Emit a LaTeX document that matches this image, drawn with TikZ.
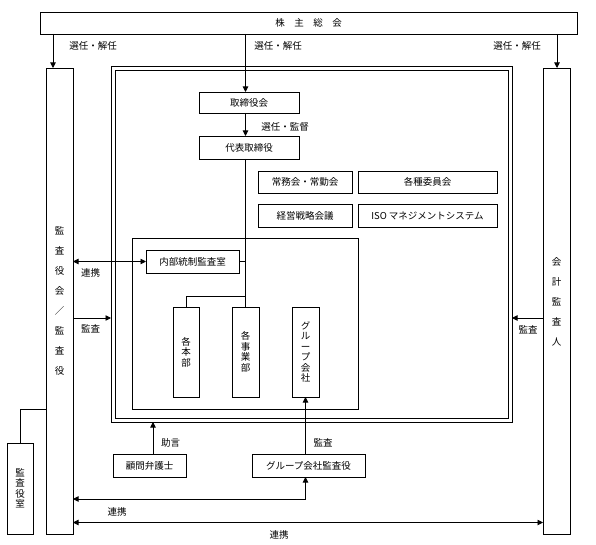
\documentclass[tikz,border=0pt]{standalone}
\usepackage{fontspec}
\setmainfont{Noto Sans CJK JP}
\newfontfamily\vjp[RawFeature=+vert]{Noto Sans CJK JP}
\usetikzlibrary{arrows.meta}
\begin{document}
\begin{tikzpicture}[x=1pt,y=-1pt,
  every node/.style={font=\fontsize{9.5}{11}\selectfont, inner sep=0pt, outer sep=0pt},
  box/.style={draw, line width=0.8pt, fill=white},
  vtext/.style={align=center, font=\fontsize{9.5}{10.5}\selectfont},
  ctext/.style={align=center, font=\fontsize{9.5}{20}\selectfont},
  conn/.style={line width=0.9pt},
  arr/.style={line width=0.9pt, -{Triangle[length=5.5pt,width=5.5pt]}},
  darr/.style={line width=0.9pt, {Triangle[length=5.5pt,width=5.5pt]}-{Triangle[length=5.5pt,width=5.5pt]}},
  lbl/.style={font=\fontsize{9.5}{11}\selectfont}]
\useasboundingbox (0,0) rectangle (596,545);

% top
\node[box, minimum width=537pt, minimum height=22pt] (soukai) at (308.5,23) {株　主　総　会};
% side columns
\node[box, minimum width=27pt, minimum height=466pt] (kansa) at (59.5,301) {};
\node[ctext] at (59.5,301) {監\\査\\役\\会\\／\\監\\査\\役};
\node[box, minimum width=27pt, minimum height=466pt] (kaikei) at (556.5,301) {};
\node[ctext] at (556.5,302) {会\\計\\監\\査\\人};

% frame
\node[box, fill=none, minimum width=401pt, minimum height=356pt] (frameO) at (311.5,244) {};
\node[box, fill=none, minimum width=393pt, minimum height=348pt] (frameI) at (311.5,244) {};

% inner boxes
\node[box, minimum width=100pt, minimum height=21pt] (tori) at (249,102.5) {取締役会};
\node[box, minimum width=100pt, minimum height=23pt] (daihyo) at (249,147.5) {代表取締役};
\node[box, minimum width=94pt, minimum height=22pt] (joumu) at (305,182) {常務会・常勤会};
\node[box, minimum width=139pt, minimum height=22pt] (iinkai) at (427.5,182) {各種委員会};
\node[box, minimum width=94pt, minimum height=23pt] (keiei) at (305,215.5) {経営戦略会議};
\node[box, minimum width=139pt, minimum height=23pt] (iso) at (427.5,215.5) {ISO マネジメントシステム};
\node[box, fill=none, minimum width=226pt, minimum height=171pt] (grp) at (245,323.5) {};
\node[box, minimum width=93pt, minimum height=23pt] (naibu) at (192.5,261.5) {内部統制監査室};
\node[box, vtext, minimum width=26pt, minimum height=90pt] (honbu) at (186,352) {各\\本\\部};
\node[box, vtext, minimum width=27pt, minimum height=90pt] (jigyo) at (245.5,352) {各\\事\\業\\部};
\node[box, vtext, minimum width=27pt, minimum height=90pt] (gco) at (305.5,352) {\vjp グ\\ル\\ー\\プ\\会\\社};

% bottom boxes
\node[box, vtext, minimum width=26pt, minimum height=91pt] (shitsu) at (20,488.5) {監\\査\\役\\室};
\node[box, minimum width=73pt, minimum height=23pt] (komon) at (149.5,465.5) {顧問弁護士};
\node[box, minimum width=113pt, minimum height=23pt] (gkansa) at (308.5,465.5) {グループ会社監査役};

% helper coordinates
\coordinate (xl) at (53,0);
\coordinate (spine) at (245.5,0);
\coordinate (xr) at (557,0);
\coordinate (ya) at (0,318);
\coordinate (yb) at (0,296);
\coordinate (yc) at (0,409);
\coordinate (yd) at (0,499);
\coordinate (ye) at (0,522.5);
\coordinate (xk) at (153,0);

% connectors
\draw[arr] (soukai.south -| xl) -- (kansa.north -| xl);
\draw[arr] (soukai.south -| spine) -- (tori.north -| spine);
\draw[arr] (soukai.south -| xr) -- (kaikei.north -| xr);
\draw[arr] (tori.south -| spine) -- (daihyo.north -| spine);
\draw[conn] (daihyo.south -| spine) -- (jigyo.north -| spine);
\draw[conn] (naibu.east) -- (naibu.east -| spine);
\draw[conn] (spine |- yb) -- (honbu.north |- yb) -- (honbu.north);
\draw[darr] (kansa.east |- naibu.west) -- (naibu.west);
\draw[arr] (kansa.east |- ya) -- (frameO.west |- ya);
\draw[arr] (kaikei.west |- ya) -- (frameO.east |- ya);
\draw[conn] (shitsu.north) -- (shitsu.north |- yc) -- (kansa.west |- yc);
\draw[arr] (komon.north -| xk) -- (frameO.south -| xk);
\draw[arr] (gkansa.north -| gco.south) -- (gco.south);
\draw[darr] (kansa.east |- yd) -- (gco.south |- yd) -- (gco.south |- gkansa.south);
\draw[darr] (kansa.east |- ye) -- (kaikei.west |- ye);

% labels
\node[lbl] at (93,46) {選任・解任};
\node[lbl] at (278,46) {選任・解任};
\node[lbl] at (517,46) {選任・解任};
\node[lbl] at (285,127) {選任・監督};
\node[lbl] at (90.5,273) {連携};
\node[lbl] at (90.5,329) {監査};
\node[lbl] at (528,330) {監査};
\node[lbl] at (170.5,443) {助言};
\node[lbl] at (323,443) {監査};
\node[lbl] at (117,512) {連携};
\node[lbl] at (279,535) {連携};
\end{tikzpicture}
\end{document}
